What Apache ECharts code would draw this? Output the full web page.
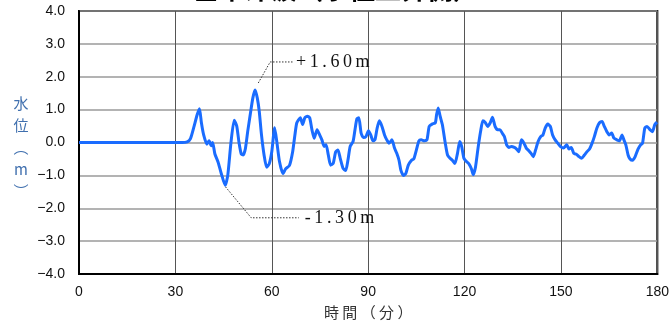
<!DOCTYPE html>
<html>
<head>
<meta charset="utf-8">
<script src="https://cdn.jsdelivr.net/npm/echarts@6/dist/echarts.min.js"></script>
<style>
html,body{margin:0;padding:0;background:#fff;}
#c{width:672px;height:326px;}
</style>
</head>
<body>
<div id="c"></div>
<script>
// ---- data ----
const timeMin = [0,10,20,30,32.1,33.7,34.7,35.7,36.8,37.5,38.1,38.8,39.8,40.5,41.1,41.6,42.3,43.3,44.3,45.5,46.3,47.3,48.3,49.1,49.8,50.5,51.1,51.8,52.5,53.3,54.1,54.8,55.5,56.1,56.8,57.6,58.4,59.2,60.0,60.9,61.6,62.4,63.5,64.3,65.5,66.5,67.2,67.8,68.9,69.6,70.3,71.1,71.8,72.5,73.2,74.1,74.9,75.6,76.3,76.9,77.6,78.3,79.1,79.9,80.6,81.3,82.2,83.0,83.7,84.4,85.3,85.9,86.5,87.1,87.8,88.5,89.3,90.1,90.8,91.5,92.1,92.8,93.5,94.3,95.1,95.8,96.5,97.4,98.2,98.9,99.6,100.2,101.0,101.7,102.5,103.5,104.2,105.0,105.8,106.5,107.5,108.3,109.0,109.9,110.9,111.3,111.8,112.4,113.1,114.0,114.7,115.5,116.2,117.0,117.8,118.5,119.1,119.8,120.6,121.3,122.1,122.7,123.4,124.2,125.0,125.7,126.5,127.2,128.0,128.7,129.5,130.3,131.0,131.7,132.4,133.1,133.8,134.6,135.5,136.2,136.9,137.7,138.5,139.2,140.0,140.7,141.4,142.1,142.9,143.7,144.4,145.1,145.9,146.7,147.4,148.2,149.0,149.8,150.8,151.8,152.5,153.2,154.0,154.8,155.6,156.4,157.3,158.1,158.9,159.7,160.4,161.2,162.0,162.8,163.5,164.3,165.0,165.8,166.5,167.4,168.2,169.0,169.6,170.2,170.9,171.5,172.3,173.1,174.0,174.8,175.4,176.1,176.8,177.7,178.5,179.2,179.9];
const waterLevel = [0,0,0,0,0,0.02,0.12,0.45,0.85,1.03,0.6,0.23,-0.05,0.05,-0.1,0.0,-0.35,-0.6,-0.95,-1.30,-1.0,0.0,0.68,0.5,0,-0.35,-0.38,-0.18,0.33,0.85,1.35,1.6,1.35,0.95,0.23,-0.38,-0.75,-0.65,-0.28,0.45,0,-0.58,-0.95,-0.8,-0.7,-0.28,0.23,0.6,0.75,0.55,0.75,0.8,0.75,0.39,0.13,0.39,0.23,0.08,-0.12,-0.07,-0.38,-0.69,-0.64,-0.28,-0.23,-0.48,-0.79,-0.85,-0.54,-0.12,0.03,0.39,0.72,0.75,0.29,0.15,0.18,0.36,0.23,0.05,0.08,0.44,0.66,0.49,0.23,0.08,-0.02,0.08,-0.17,-0.33,-0.54,-0.85,-1.0,-0.95,-0.69,-0.54,-0.5,-0.23,0.05,0.08,0.05,0.08,0.49,0.56,0.6,0.85,1.05,0.8,0.54,-0.02,-0.38,-0.48,-0.54,-0.64,-0.33,0.03,-0.12,-0.48,-0.58,-0.64,-0.79,-0.98,-0.75,-0.17,0.34,0.66,0.6,0.49,0.6,0.77,0.49,0.39,0.39,0.29,0.18,-0.07,-0.15,-0.12,-0.15,-0.2,-0.28,0.08,-0.02,-0.17,-0.25,-0.33,-0.43,-0.23,0.03,0.18,0.23,0.44,0.56,0.49,0.23,0.08,-0.02,-0.12,-0.17,-0.07,-0.2,-0.15,-0.33,-0.36,-0.43,-0.48,-0.38,-0.28,-0.2,-0.02,0.18,0.44,0.6,0.64,0.49,0.33,0.23,0.29,0.13,0.08,0.05,0.23,0.08,-0.07,-0.38,-0.5,-0.54,-0.43,-0.2,-0.07,-0.02,0.44,0.49,0.39,0.33,0.54,0.62];
const xTickLabels = ['0','30','60','90','120','150','180'];
const yTickLabels = ['\u22124.0','\u22123.0','\u22122.0','\u22121.0','0.0','1.0','2.0','3.0','4.0'];
const titleText = '基準津波（水位上昇側）';
const xAxisName = '時 間 （ 分 ）';
const yAxisNameChars = ['水','位','︵','m','︶'];
// annotation: leader start, elbow, end (data units) and text
const annMaxText = '+1.60m';
const annMaxPath = [[55.8,1.81],[59.5,2.45],[66.9,2.45]];
const annMinText = '-1.30m';
const annMinPath = [[45.6,-1.35],[53.6,-2.29],[68.4,-2.29]];

const seriesData = timeMin.map((t,i)=>[t,waterLevel[i]]);

const chart = echarts.init(document.getElementById('c'), null, {renderer:'canvas'});
chart.setOption({
  animation:false,
  backgroundColor:'#fff',
  grid:{left:79,right:9,top:11,bottom:52,show:true,borderColor:'#000',borderWidth:2,backgroundColor:'transparent'},
  xAxis:{
    type:'value',min:0,max:180,interval:30,
    name:xAxisName,nameLocation:'middle',nameGap:31,
    nameTextStyle:{fontFamily:'Noto Sans CJK JP',fontSize:15,color:'#333'},
    axisLine:{show:true,onZero:false,lineStyle:{color:'#000',width:2}},
    axisTick:{show:false},
    axisLabel:{margin:11,fontFamily:'Liberation Sans, Arial',fontSize:14,color:'#111',
      formatter:(v)=>xTickLabels[Math.round(v/30)]},
    splitLine:{show:true,lineStyle:{color:'#555',width:1}}
  },
  yAxis:{
    type:'value',min:-4,max:4,interval:1,
    axisLine:{show:true,onZero:false,lineStyle:{color:'#000',width:2}},
    axisTick:{show:false},
    axisLabel:{margin:14,fontFamily:'Liberation Sans, Arial',fontSize:14,color:'#111',
      formatter:(v)=>yTickLabels[Math.round(v+4)]},
    splitLine:{show:true,lineStyle:{color:'#9a9a9a',width:1.5}}
  },
  series:[{
    type:'line',data:seriesData,showSymbol:false,smooth:0.2,
    lineStyle:{color:'#1a6cff',width:3},
    z:3
  }]
});

function px(p){return chart.convertToPixel({gridIndex:0},p);}
function leader(path){
  const pts = path.map(px);
  return {type:'polyline',shape:{points:pts},style:{stroke:'#333',lineWidth:1,lineDash:[1.5,1.5],fill:null},z:10};
}
const maxEnd = px(annMaxPath[2]);
const minEnd = px(annMinPath[2]);
chart.setOption({
  graphic:[
    {type:'text',left:'center',top:-24,style:{text:titleText,font:'bold 26px "Noto Sans CJK JP"',fill:'#000'}},
    leader(annMaxPath),
    leader(annMinPath),
    {type:'text',x:maxEnd[0]+2,y:maxEnd[1],style:{text:annMaxText.split('').join('\u2009'),font:'18px "Liberation Serif", serif',fill:'#111',textVerticalAlign:'middle'},z:10},
    {type:'text',x:minEnd[0]+6,y:minEnd[1],style:{text:annMinText.split('').join('\u2009'),font:'18px "Liberation Serif", serif',fill:'#111',textVerticalAlign:'middle'},z:10},
    {type:'text',x:21,y:92,style:{text:yAxisNameChars.join('\n'),font:'15px "Noto Sans CJK JP"',fill:'#3f6fae',textAlign:'center',lineHeight:22},z:10}
  ]
});
</script>
</body>
</html>
